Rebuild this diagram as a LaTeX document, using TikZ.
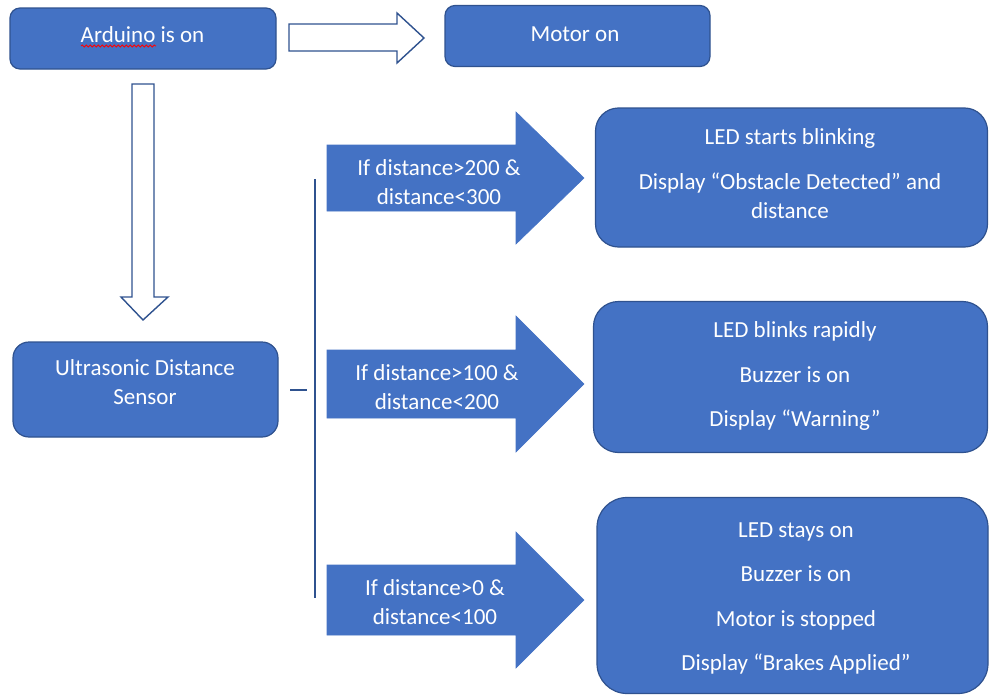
\documentclass[tikz,border=0pt]{standalone}
\usepackage{fontspec}
\setmainfont{Carlito}
\usetikzlibrary{decorations.pathmorphing}
\definecolor{boxblue}{HTML}{4472C4}
\definecolor{edgeblue}{HTML}{2F528F}

\begin{document}
\begin{tikzpicture}[x=1pt, y=-1pt,
    box/.style={draw=edgeblue, line width=1.2pt, fill=boxblue, inner sep=0pt},
    boxtext/.style={text=white, align=center, inner sep=0pt, font=\fontsize{23}{29.5}\selectfont},
    hollow/.style={draw=edgeblue, line width=1.4pt, fill=white, line join=miter},
    bigarrow/.style={fill=boxblue, draw=boxblue, line width=0.6pt}]
  \useasboundingbox (0,0) rectangle (989,696);

  % boxes
  \node[box, minimum width=266pt, minimum height=61pt, rounded corners=10pt] (arduino) at (143,38.5) {};
  \node[box, minimum width=265pt, minimum height=61pt, rounded corners=10pt] (motor) at (577.5,36) {};
  \node[box, minimum width=265pt, minimum height=95pt, rounded corners=16pt] (ultra) at (145.5,389.5) {};
  \node[box, minimum width=392pt, minimum height=139pt, rounded corners=23pt] (far) at (791.5,177.5) {};
  \node[box, minimum width=394pt, minimum height=151pt, rounded corners=25pt] (mid) at (790.5,377) {};
  \node[box, minimum width=391pt, minimum height=196pt, rounded corners=30pt] (near) at (792.5,595.5) {};

  % hollow arrows
  \draw[hollow] (289,24) -- (397,24) -- (397,13) -- (424,38) -- (397,63) -- (397,51) -- (289,51) -- cycle;
  \draw[hollow] (132,84) -- (154,84) -- (154,297) -- (168,297) -- (143,320) -- (121,297) -- (132,297) -- cycle;

  % branch line
  \coordinate (dash a) at (290,390);
  \coordinate (dash b) at (307,390);
  \coordinate (split top) at (315,179);
  \coordinate (split bottom) at (315,598);
  \draw[edgeblue, line width=1.6pt] (dash a) -- (dash b);
  \draw[edgeblue, line width=1.8pt] (split top) -- (split bottom);

  % condition arrows
  \foreach \sy/\hy/\ty in {145/112/178, 350/316/384, 565/532/600} {
    \pgfmathsetmacro{\dy}{\ty-\sy}
    \draw[bigarrow] (327,\sy) -- (516,\sy) -- (516,\hy) -- (584,\ty)
      -- (516,2*\ty-\hy) -- (516,\ty+\dy) -- (327,\ty+\dy) -- cycle;
  }

  % texts
  \node[boxtext] (arduino text) at (142.5,35) {Arduino is on};
  \node[boxtext] (motor text) at (575,34) {Motor on};
  \node[boxtext] (ultra text) at (145,382) {Ultrasonic Distance\\Sensor};
  \node[boxtext] (cond far) at (439,182) {If distance>200 \&\\distance<300};
  \node[boxtext] (cond mid) at (437,387) {If distance>100 \&\\distance<200};
  \node[boxtext] (cond near) at (435,602) {If distance>0 \&\\distance<100};
  \node[boxtext] (far text) at (790,174) {LED starts blinking\\[15pt]Display “Obstacle Detected” and\\distance};
  \node[boxtext] (mid text) at (795,376) {LED blinks rapidly\\[15pt]Buzzer is on\\[15pt]Display “Warning”};
  \node[boxtext] (near text) at (796,598.5) {LED stays on\\[15pt]Buzzer is on\\[15pt]Motor is stopped\\[15pt]Display “Brakes Applied”};

  % spelling mark
  \coordinate (squiggle a) at (81,46);
  \coordinate (squiggle b) at (156,46);
  \draw[red, line width=0.8pt, decorate, decoration={snake, segment length=4pt, amplitude=1pt}] (squiggle a) -- (squiggle b);
\end{tikzpicture}
\end{document}
